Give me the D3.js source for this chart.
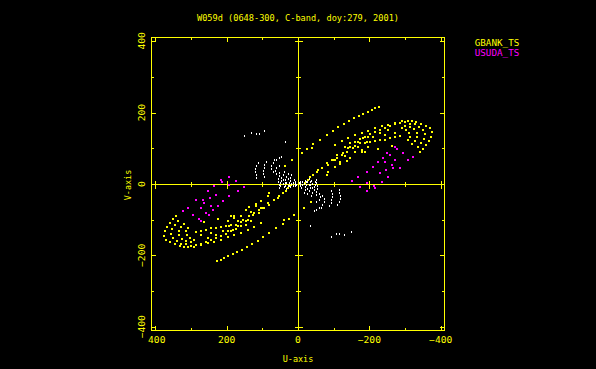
<!DOCTYPE html>
<html><head><meta charset="utf-8">
<script src="https://cdn.jsdelivr.net/npm/d3@7"></script>
<style>html,body{margin:0;padding:0;background:#000;overflow:hidden}</style>
</head><body>
<svg id="chart" width="596" height="369"></svg>
<script>
const titleText = "W059d (0648-300, C-band, doy:279, 2001)";
const xAxisTitle = "U-axis";
const yAxisTitle = "V-axis";
const legendNames = ["GBANK_TS", "USUDA_TS"];
const legendColors = ["#ffff00", "#ff00ff"];
const labelTicks = [400, 200, 0, -200, -400];
const allTicks = [-400, -300, -200, -100, 0, 100, 200, 300, 400];

// GBANK_TS (u, v) samples in one half of the plane; conjugates (-u,-v) are also plotted
const gbankTS = [
 [-11,87],[-25,98],[-42,112],[-62,124],[-81,138],[-98,149],[-112,160],[-129,168],[-143,177],[-157,185],[-171,191],[-182,196],[-196,202],[-208,208],[-216,213],[-227,216],
 [-20,3],[-28,11],[-34,20],[-42,25],[-53,34],[-56,39],[-67,45],[-81,59],[-84,53],[-95,67],[-104,67],[-109,73],[-124,81],[-132,79],[-138,90],[-140,101],[-154,101],[-168,104],[-188,90],[-194,118],[-197,104],[-84,34],[-81,25],[-104,48],[-118,56],[-39,101],[17,67],[36,51],
 [-146,115],[-160,118],[-174,126],[-188,132],[-202,140],[-216,146],[-230,152],[-244,157],[-258,163],[-272,168],[-286,171],[-300,174],
 [-309,177],[-320,177],[-331,174],[-345,168],[-359,163],[-371,157],[-376,146],[-373,132],[-368,121],[-359,109],[-351,98],[-342,90],
 [-314,168],[-328,168],[-340,160],[-351,152],[-356,140],[-354,126],[-345,115],[-337,104],
 [-300,163],[-314,160],[-326,154],[-334,143],[-334,132],[-328,121],[-320,112],
 [-292,157],[-303,152],[-312,143],[-314,132],[-309,124],
 [-132,104],[-146,104],[-160,107],[-174,115],[-188,115],[-202,118],[-216,121],[-230,124],[-244,124],[-258,129],[-272,132],[-286,135],
 [-230,143],[-244,138],[-253,152],[-272,143],[-211,132],[-197,132],[-182,129],[-168,118],[-118,62],[-138,65],[-146,73],[-160,90],[-180,90],[-109,81],[-126,87],[-98,67],
 [-292,177],[-272,171],[-253,166],[-236,163],[-216,157],[-197,149],[-180,143],[-160,138],[-140,129],[-124,121],[-104,109],
 [-180,95],[-225,98],[-264,107]
];

// USUDA_TS (u, v) samples
const usudaTS = [
 [-272,104],[-278,98],[-250,87],[-258,81],[-295,87],[-239,73],[-225,62],[-244,62],[-272,67],[-309,67],[-323,76],
 [-211,48],[-194,34],[-230,31],[-253,20],[-286,45],[-267,45],[-152,8],[-174,-8],[-194,3],[-236,6],[-216,-11],
 [-168,20],[-264,53],[-247,39],[-194,-20],[-213,-6]
];

// other baselines (u, v) samples
const otherBaselines = [
 [149,135],[129,143],[115,140],[107,140],[93,149],[34,118],
 [112,59],[115,51],[118,42],[118,34],[115,25],[115,17],
 [87,62],[93,53],[95,45],[98,36],[98,28],[95,20],
 [67,67],[70,59],[73,51],[73,42],[70,34],[59,67],[51,73],[45,76],
 [53,51],[59,45],[62,36],[59,28],
 [51,31],[53,22],[56,14],[56,6],[53,-3],[51,-11],
 [39,34],[42,25],[45,17],[45,8],[42,0],[39,-8],
 [28,28],[31,20],[34,11],[31,3],[28,-6],
 [17,25],[20,17],[20,8],[17,0],[6,0],[8,6],[8,-6],[20,-8],[31,-14],
 [48,3],[36,3],[25,3],[14,3],[48,-6],[36,-6],[25,-6],[14,-6],[42,11],[28,14],[11,11],[3,-3]
];

const W = 596, H = 369;
const svg = d3.select("#chart");
svg.append("rect").attr("width", W).attr("height", H).attr("fill", "#000");

const x = d3.scaleLinear().domain([412, -412]).range([151, 445]);
const y = d3.scaleLinear().domain([-412, 412]).range([331, 37]);
const YEL = "#ffff00";
const font = "'DejaVu Sans Mono', 'Liberation Mono', monospace";

const g = svg.append("g").attr("shape-rendering", "crispEdges");

// frame
g.append("rect").attr("x", 151.5).attr("y", 37.5).attr("width", 293).attr("height", 293)
 .attr("fill", "none").attr("stroke", YEL).attr("stroke-width", 1);

// zero axes
const x0 = Math.round(x(0)) + 0.5, y0 = Math.round(y(0)) + 0.5;
g.append("line").attr("x1", 151).attr("x2", 445).attr("y1", y0).attr("y2", y0).attr("stroke", YEL);
g.append("line").attr("x1", x0).attr("x2", x0).attr("y1", 37).attr("y2", 331).attr("stroke", YEL);

function tickLen(t) { return (t % 200 === 0) ? 5 : 3; }
function crossLen(t) { return (t % 200 === 0) ? 4 : 2.5; }
allTicks.forEach(t => {
  const px = Math.round(x(t)) + 0.5;
  const py = Math.round(y(t)) + 0.5;
  const L = tickLen(t), C = crossLen(t);
  g.append("line").attr("x1", px).attr("x2", px).attr("y1", 331).attr("y2", 331 - L).attr("stroke", YEL);
  g.append("line").attr("x1", px).attr("x2", px).attr("y1", 37).attr("y2", 37 + L).attr("stroke", YEL);
  g.append("line").attr("y1", py).attr("y2", py).attr("x1", 151).attr("x2", 151 + L).attr("stroke", YEL);
  g.append("line").attr("y1", py).attr("y2", py).attr("x1", 445).attr("x2", 445 - L).attr("stroke", YEL);
  g.append("line").attr("x1", px).attr("x2", px).attr("y1", y0 - C).attr("y2", y0 + C).attr("stroke", YEL);
  g.append("line").attr("y1", py).attr("y2", py).attr("x1", x0 - C).attr("x2", x0 + C).attr("stroke", YEL);
});

// points (each visibility and its conjugate)
function drawPoints(data, color, w, h) {
  const both = data.concat(data.map(d => [-d[0], -d[1]]));
  g.append("g").selectAll("rect").data(both).join("rect")
    .attr("x", d => Math.round(x(d[0]) - w / 2))
    .attr("y", d => Math.round(y(d[1]) - h / 2))
    .attr("width", w).attr("height", h).attr("fill", color);
}
drawPoints(gbankTS, YEL, 2, 2);
drawPoints(usudaTS, "#ff00ff", 2, 2);
drawPoints(otherBaselines, "#ffffff", 1, 2);

// texts
const T = svg.append("g").attr("font-family", font).attr("font-size", 9).attr("fill", YEL);
T.append("text").attr("x", 298).attr("y", 20.5).attr("text-anchor", "middle")
  .attr("textLength", 202).attr("lengthAdjust", "spacingAndGlyphs").text(titleText);

labelTicks.forEach(t => {
  const s = t < 0 ? "\u2212" + Math.abs(t) : String(t);
  const w = s.length * 5.8;
  T.append("text").attr("x", x(t) + (t === 400 ? 1.5 : 0)).attr("y", 342.7).attr("text-anchor", "middle")
    .attr("textLength", w).attr("lengthAdjust", "spacingAndGlyphs").text(s);
  T.append("text").attr("transform", `translate(144.5,${y(t) + (t === 400 ? -0.5 : 0)}) rotate(-90)`)
    .attr("text-anchor", "middle").attr("textLength", w).attr("lengthAdjust", "spacingAndGlyphs").text(s);
});

T.append("text").attr("x", 298).attr("y", 361.5).attr("text-anchor", "middle")
  .attr("textLength", 30.5).attr("lengthAdjust", "spacingAndGlyphs").text(xAxisTitle);
T.append("text").attr("transform", "translate(130.7,185) rotate(-90)").attr("text-anchor", "middle")
  .attr("textLength", 30.5).attr("lengthAdjust", "spacingAndGlyphs").text(yAxisTitle);

legendNames.forEach((n, i) => {
  T.append("text").attr("x", 474.7).attr("y", 45.5 + i * 10.8).attr("fill", legendColors[i])
    .attr("textLength", 44.6).attr("lengthAdjust", "spacingAndGlyphs").text(n);
});
</script>
</body></html>
